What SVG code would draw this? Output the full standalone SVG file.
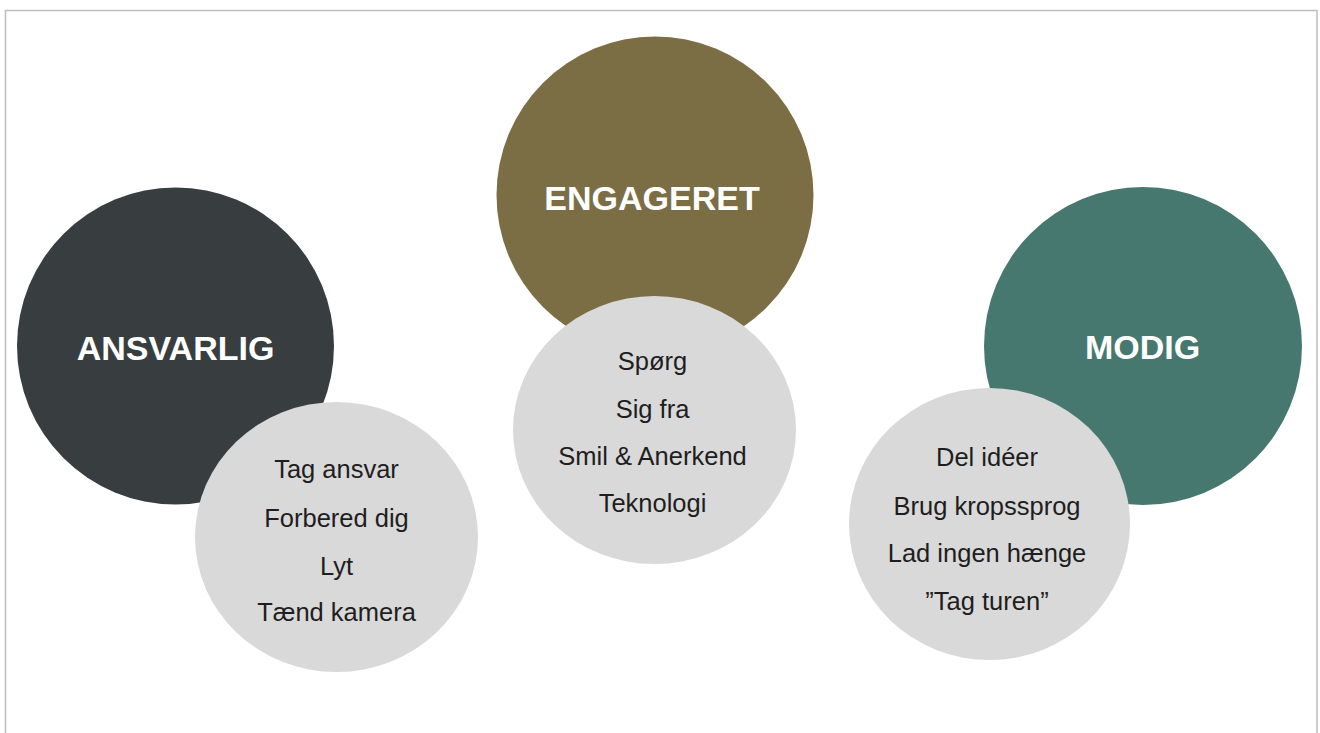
<svg xmlns="http://www.w3.org/2000/svg" width="1320" height="733" viewBox="0 0 1320 733">
  <style>
    .title { font-family: "Liberation Sans", Arial, sans-serif; font-weight: bold; font-size: 34px; fill: #ffffff; text-anchor: middle; }
    .item { font-family: "Liberation Sans", Arial, sans-serif; font-size: 25.5px; fill: #1e1e1e; text-anchor: middle; }
    .sub { fill: #d9d9d9; }
  </style>
  <rect x="0" y="0" width="1320" height="733" fill="#ffffff"/>
  <rect x="5.5" y="10.5" width="1311.5" height="740" fill="none" stroke="#bdbdbd" stroke-width="1.5"/>
  <g id="connectors"></g>
  <g id="ansvarlig">
    <circle cx="175.5" cy="346" r="158.5" fill="#383d40"/>
    <text class="title" x="175.5" y="360">ANSVARLIG</text>
  </g>
  <g id="engageret">
    <circle cx="655" cy="195" r="158.5" fill="#7b6d44"/>
    <text class="title" x="652" y="210">ENGAGERET</text>
  </g>
  <g id="modig">
    <circle cx="1143" cy="346" r="159" fill="#467870"/>
    <text class="title" x="1142.5" y="359">MODIG</text>
  </g>
  <g id="ansvarlig-items">
    <ellipse class="sub" cx="336.5" cy="537" rx="141.5" ry="135"/>
    <text class="item" x="336.5" y="478">Tag ansvar</text>
    <text class="item" x="336.5" y="527">Forbered dig</text>
    <text class="item" x="336.5" y="575">Lyt</text>
    <text class="item" x="336.5" y="621">Tænd kamera</text>
  </g>
  <g id="engageret-items">
    <ellipse class="sub" cx="654.5" cy="430" rx="141.5" ry="134"/>
    <text class="item" x="652.5" y="370">Spørg</text>
    <text class="item" x="652.5" y="418">Sig fra</text>
    <text class="item" x="652.5" y="465">Smil &amp; Anerkend</text>
    <text class="item" x="652.5" y="512">Teknologi</text>
  </g>
  <g id="modig-items">
    <ellipse class="sub" cx="989.5" cy="524" rx="140.5" ry="136"/>
    <text class="item" x="987" y="466">Del idéer</text>
    <text class="item" x="987" y="515">Brug kropssprog</text>
    <text class="item" x="987" y="562">Lad ingen hænge</text>
    <text class="item" x="987" y="610">”Tag turen”</text>
  </g>
</svg>
